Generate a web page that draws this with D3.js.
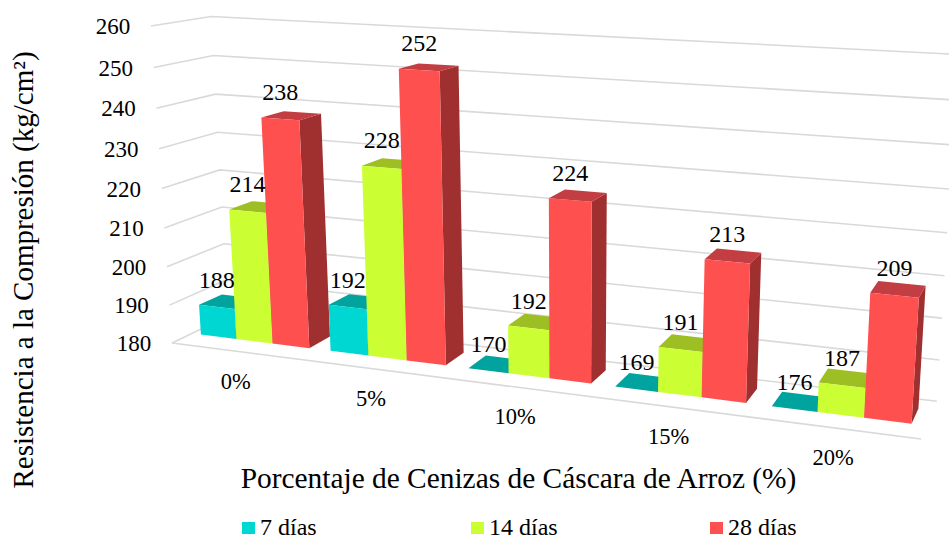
<!DOCTYPE html>
<html>
<head>
<meta charset="utf-8">
<script src="https://cdn.jsdelivr.net/npm/d3@7/dist/d3.min.js"></script>
<style>
html,body{margin:0;padding:0;background:#fff}
text{font-family:"Liberation Serif",serif;fill:#000}
</style>
</head>
<body>
<svg id="chart" width="949" height="541"></svg>
<script>
const categories = ["0%","5%","10%","15%","20%"];
const seriesNames = ["7 días","14 días","28 días"];
const days7 = [188,192,170,169,176];
const days14 = [214,228,192,191,187];
const days28 = [238,252,224,213,209];
const valueTicks = [180,190,200,210,220,230,240,250,260];
const frontColors = ["#00D7D2","#CCFF33","#FF5050"];
const topColors = ["#00A39E","#9EBF24","#C23E42"];
const sideColors = ["#009E9A","#8FAD20","#A03030"];
const seriesValues = [days7,days14,days28];
const xTitle = "Porcentaje de Cenizas de Cáscara de Arroz (%)";
const yTitle = "Resistencia a la Compresión (kg/cm²)";

const svg = d3.select("#chart");

// Projective map of the unit plot box to the screen
const O=[172,343],Pt=[921,439],Pv=[151,26],Pd=[228,316];
const wt=.85,wv=.95,wd=1.06;
function project(t,v,d){
  const w=1+t*(wt-1)+v*(wv-1)+d*(wd-1);
  const f=i=>(O[i]+t*(wt*Pt[i]-O[i])+v*(wv*Pv[i]-O[i])+d*(wd*Pd[i]-O[i]))/w;
  return [f(0),f(1)];
}
const xBand = d3.scaleBand().domain(categories).range([-.0015,.9985]).paddingInner(.16).paddingOuter(.08);
const sBand = d3.scaleBand().domain(seriesNames).range([0,xBand.bandwidth()]);
const yScale = d3.scaleLinear().domain([180,260]).range([0,1]).clamp(true);
const depth = d3.scaleLinear().domain([0,1]).range([.34,.75]);

const line = d3.line();
// gridlines
const grid = svg.append("g");
grid.selectAll("path.g").data(valueTicks).join("path")
  .attr("fill","none").attr("stroke","#D9D9D9").attr("stroke-width",1.6)
  .attr("d",v=>{const y=yScale(v);return line([project(0,y,0),project(0,y,1),project(1,y,1)]);});
grid.append("path").attr("fill","none").attr("stroke","#D9D9D9").attr("stroke-width",1.6)
  .attr("d",line([project(0,0,0),project(1,0,0)]));

// value tick labels
svg.append("g").selectAll("text").data(valueTicks).join("text")
  .attr("x",v=>project(0,yScale(v),0)[0]-38)
  .attr("y",v=>project(0,yScale(v),0)[1]+.5)
  .attr("dy",".33em").attr("text-anchor","middle").attr("font-size",23)
  .text(d=>d);

// category labels
svg.append("g").selectAll("text").data(categories).join("text")
  .attr("x",c=>project(xBand(c)+xBand.bandwidth()/2,0,0)[0])
  .attr("y",c=>project(xBand(c)+xBand.bandwidth()/2,0,0)[1]+30)
  .attr("dy",".33em").attr("text-anchor","middle").attr("font-size",22.5)
  .text(d=>d);

// bars
const bars = svg.append("g");
const poly = pts=>line(pts)+"Z";
categories.forEach((c,ci)=>{
  seriesNames.forEach((s,si)=>{
    const t0=xBand(c)+sBand(s), t1=t0+sBand.bandwidth();
    const y=yScale(seriesValues[si][ci]);
    const d0=depth(0), d1=depth(1);
    const g=bars.append("g");
    g.append("path").attr("fill",sideColors[si])
      .attr("d",poly([project(t1,0,d0),project(t1,0,d1),project(t1,y,d1),project(t1,y,d0)]));
    g.append("path").attr("fill",topColors[si])
      .attr("d",poly([project(t0,y,d0),project(t1,y,d0),project(t1,y,d1),project(t0,y,d1)]));
    if(y>0) g.append("path").attr("fill",frontColors[si])
      .attr("d",poly([project(t0,0,d0),project(t1,0,d0),project(t1,y,d0),project(t0,y,d0)]));
  });
});

// data labels
const labels = svg.append("g");
categories.forEach((c,ci)=>{
  seriesNames.forEach((s,si)=>{
    const val=seriesValues[si][ci];
    const p=project(xBand(c)+sBand(s)+sBand.bandwidth()/2,yScale(val),depth(0));
    labels.append("text").attr("x",p[0]).attr("y",p[1]-19)
      .attr("text-anchor","middle").attr("font-size",24).text(val);
  });
});

// axis titles
svg.append("text").attr("x",518.5).attr("y",488).attr("text-anchor","middle").attr("font-size",29.4).text(xTitle);
svg.append("text").attr("transform","translate(33,270) rotate(-90)").attr("text-anchor","middle").attr("font-size",29).text(yTitle);

// legend
const legendSwatchX=[242,471,710];
const legend=svg.append("g").selectAll("g").data(seriesNames).join("g")
  .attr("transform",(d,i)=>`translate(${legendSwatchX[i]},522)`);
legend.append("rect").attr("width",13).attr("height",12).attr("fill",(d,i)=>frontColors[i]);
legend.append("text").attr("x",18).attr("y",13).attr("font-size",24).text(d=>d);
</script>
</body>
</html>
